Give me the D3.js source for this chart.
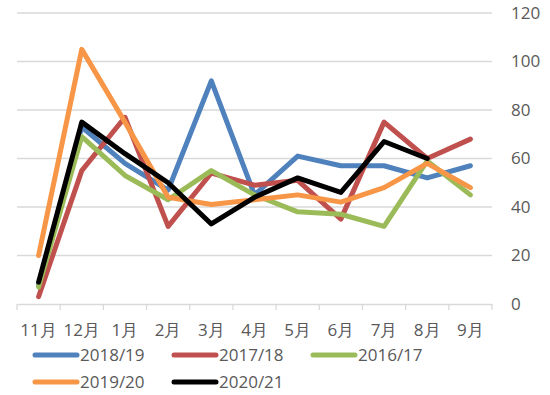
<!DOCTYPE html>
<html><head><meta charset="utf-8">
<script src="https://cdn.jsdelivr.net/npm/d3@7"></script>
<style>body{margin:0;background:#fff}svg{display:block}text{font-family:"Open Sans",sans-serif;fill:#595959}</style>
</head><body><svg id="c" width="550" height="395"></svg>
<script>
const categories = ["11月","12月","1月","2月","3月","4月","5月","6月","7月","8月","9月"];
const yTicks = [0,20,40,60,80,100,120];
const seriesNames = ["2018/19","2017/18","2016/17","2019/20","2020/21"];
const s2018_19 = [8,73,58,47,92,45,61,57,57,52,57];
const s2017_18 = [3,55,77,32,54,49,51,35,75,60,68];
const s2016_17 = [7,69,53,43,55,45,38,37,32,59,45];
const s2019_20 = [20,105,75,44,41,43,45,42,48,58,48];
const s2020_21 = [9,75,62,50,33,44,52,46,67,60,null];
const colors = ["#4F81BD","#C0504D","#9BBB59","#F79646","#000000"];
const seriesValues = [s2018_19,s2017_18,s2016_17,s2019_20,s2020_21];

const svg = d3.select("#c");
const x = d3.scaleBand().domain(categories).range([17,492]).padding(0);
const y = d3.scaleLinear().domain([0,120]).range([304,13]);

// gridlines
svg.append("g").selectAll("line").data(yTicks.filter(d=>d>0)).join("line")
  .attr("x1",17).attr("x2",492).attr("y1",d=>y(d)).attr("y2",d=>y(d))
  .attr("stroke","#d9d9d9").attr("stroke-width",1.3);

// x axis
const xa = svg.append("g").attr("transform","translate(0,"+y(0)+")")
  .call(d3.axisBottom(x).tickSize(0).tickPadding(20));
xa.select(".domain").attr("stroke","#d9d9d9").attr("stroke-width",1.3);
xa.selectAll("text").attr("font-size",17).attr("fill","#595959").attr("font-family","'Open Sans',sans-serif");
const bounds = categories.map(c=>x(c)).concat([x(categories[categories.length-1])+x.bandwidth()]);
xa.append("g").selectAll("line").data(bounds).join("line")
  .attr("x1",d=>d).attr("x2",d=>d).attr("y1",0).attr("y2",6)
  .attr("stroke","#d9d9d9").attr("stroke-width",1.3);

// y axis labels on right
const ya = svg.append("g").attr("transform","translate(492,0)")
  .call(d3.axisRight(y).tickValues(yTicks).tickSize(0).tickPadding(19));
ya.select(".domain").remove();
ya.selectAll("text").attr("font-size",17).attr("fill","#595959").attr("font-family","'Open Sans',sans-serif");

// lines
const line = d3.line().defined(d=>d!=null)
  .x((d,i)=>x(categories[i])+x.bandwidth()/2).y(d=>y(d));
svg.append("g").selectAll("path").data(seriesValues).join("path")
  .attr("d",line).attr("fill","none")
  .attr("stroke",(d,i)=>colors[i]).attr("stroke-width",5)
  .attr("stroke-linejoin","round").attr("stroke-linecap","round");

// legend
const lg = svg.append("g");
seriesNames.forEach((n,i)=>{
  const col = i%3, row = Math.floor(i/3);
  const lx = 35 + col*139, ly = 355 + row*27;
  lg.append("line").attr("x1",lx).attr("x2",lx+42).attr("y1",ly).attr("y2",ly)
    .attr("stroke",colors[i]).attr("stroke-width",5).attr("stroke-linecap","round");
  lg.append("text").attr("x",lx+45).attr("y",ly).attr("dy","0.35em")
    .attr("font-size",17).text(n);
});
</script></body></html>
